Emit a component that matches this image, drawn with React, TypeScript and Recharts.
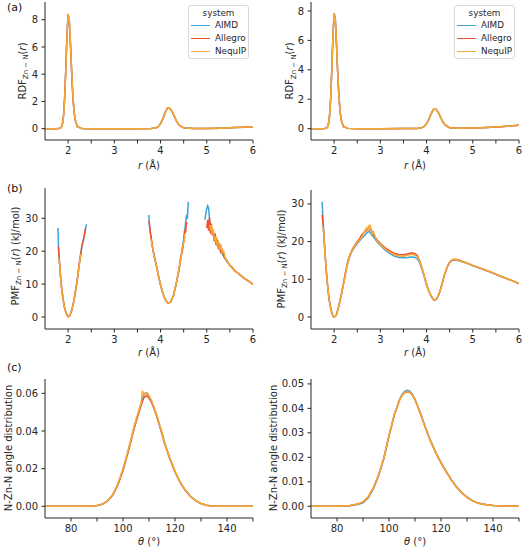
import React from 'react'
import { LineChart, Line, XAxis, YAxis } from 'recharts'

const FONT = '"DejaVu Sans", "Liberation Sans", sans-serif'
const INK = '#262626'
const SERIES = ['AIMD', 'Allegro', 'NequIP'] as const
const COLOURS = ['#3ca3dc', '#f2502c', '#f5aa35']

// ─── (a) RDF Zn–N ─────────────────────────────────────────────────────────────

const rdfR = [1.5, 1.7, 1.8, 1.85, 1.875, 1.9, 1.925, 1.95, 1.975, 2.0, 2.025, 2.05, 2.075, 2.1, 2.125, 2.15, 2.2, 2.3, 2.5, 3.0,
  3.5, 3.8, 3.9, 3.95, 4.0, 4.05, 4.1, 4.15, 4.2, 4.25, 4.3, 4.35, 4.4, 4.5, 4.7, 5.0, 5.3, 5.6, 5.8, 6.0]
const rdfAimdL = [0, 0, 0.01, 0.08, 0.3, 0.9, 2.2, 4.3, 6.8, 8.4, 8.0, 6.3, 4.3, 2.6, 1.4, 0.7, 0.15, 0.02, 0, 0,
  0, 0.01, 0.06, 0.15, 0.36, 0.72, 1.18, 1.5, 1.5, 1.27, 0.9, 0.53, 0.27, 0.06, 0.01, 0.02, 0.04, 0.08, 0.11, 0.15]
const rdfAllegroL = [0, 0, 0.01, 0.09, 0.32, 0.95, 2.3, 4.4, 6.9, 8.3, 7.9, 6.2, 4.25, 2.55, 1.38, 0.68, 0.14, 0.02, 0, 0,
  0, 0.01, 0.06, 0.16, 0.37, 0.74, 1.2, 1.51, 1.49, 1.26, 0.88, 0.51, 0.26, 0.06, 0.01, 0.02, 0.04, 0.08, 0.11, 0.15]
const rdfNequipL = [0, 0, 0.01, 0.08, 0.29, 0.88, 2.15, 4.25, 6.75, 8.45, 8.05, 6.35, 4.3, 2.6, 1.4, 0.7, 0.15, 0.02, 0, 0,
  0, 0.01, 0.06, 0.15, 0.36, 0.72, 1.18, 1.5, 1.51, 1.27, 0.9, 0.52, 0.27, 0.06, 0.01, 0.02, 0.04, 0.08, 0.11, 0.15]

const rdfAimdR = [0, 0, 0.01, 0.07, 0.27, 0.82, 2.0, 3.95, 6.3, 7.85, 7.5, 5.9, 4.0, 2.45, 1.3, 0.65, 0.14, 0.02, 0, 0,
  0.01, 0.02, 0.07, 0.15, 0.33, 0.63, 1.02, 1.3, 1.33, 1.13, 0.8, 0.48, 0.25, 0.07, 0.03, 0.05, 0.08, 0.13, 0.18, 0.24]
const rdfAllegroR = [0, 0, 0.01, 0.08, 0.28, 0.85, 2.05, 4.0, 6.35, 7.8, 7.45, 5.85, 3.95, 2.42, 1.28, 0.64, 0.14, 0.02, 0, 0,
  0.01, 0.02, 0.07, 0.15, 0.34, 0.64, 1.03, 1.31, 1.33, 1.12, 0.79, 0.47, 0.25, 0.07, 0.03, 0.05, 0.08, 0.13, 0.18, 0.24]
const rdfNequipR = [0, 0, 0.01, 0.07, 0.27, 0.83, 2.02, 3.97, 6.32, 7.82, 7.48, 5.88, 3.98, 2.44, 1.29, 0.65, 0.14, 0.02, 0, 0,
  0.01, 0.02, 0.07, 0.15, 0.33, 0.63, 1.02, 1.3, 1.34, 1.13, 0.8, 0.48, 0.25, 0.07, 0.03, 0.05, 0.08, 0.13, 0.18, 0.24]

// ─── (b) PMF Zn–N (left has gaps where the RDF is empty) ──────────────────────

const pmfRL = [1.78, 1.785, 1.79, 1.8, 1.82, 1.84, 1.86, 1.89, 1.92, 1.94, 1.97, 2.0, 2.03, 2.06, 2.09, 2.12, 2.15, 2.18,
  2.21, 2.24, 2.27, 2.3, 2.33, 2.36, 2.38, 2.4,
  3.0,
  3.745, 3.76, 3.78, 3.8, 3.83, 3.86, 3.9, 3.95, 4.0, 4.05, 4.1, 4.16, 4.22, 4.28, 4.34, 4.4, 4.44, 4.47, 4.5, 4.52, 4.54,
  4.56, 4.58, 4.6,
  4.8,
  4.96, 4.98, 5.0, 5.02, 5.04, 5.06, 5.08, 5.1, 5.12, 5.14, 5.16, 5.18, 5.2, 5.22, 5.25, 5.28, 5.31, 5.34, 5.37, 5.4,
  5.45, 5.5, 5.55, 5.6, 5.7, 5.8, 5.9, 6.0]
const pmfAimdL = [27, 25, 22, 19.5, 15.5, 11.8, 8.8, 5.6, 3.0, 2.0, 0.8, 0.05, 0.3, 1.2, 2.7, 4.6, 6.9, 9.6,
  12.6, 15.8, 19.0, 21.6, 23.5, 25.2, 27.2, 28.2,
  null,
  31, 27.5, 25.8, 23.4, 20.8, 18.5, 16.2, 12.8, 9.7, 7.2, 5.3, 4.2, 4.6, 6.6, 10.2, 14.6, 17.9, 20.8, 23.6, 25.2, 28.5,
  30.5, 29.8, 35.0,
  null,
  29.5, 31.5, 33.0, 33.8, 33.0, 29.5, 27.6, 27.0, 26.0, 25.5, 24.6, 24.1, 23.2, 22.6, 21.6, 20.8, 20.0, 19.2, 18.4, 17.6,
  16.6, 15.7, 14.9, 14.2, 13.0, 11.9, 10.9, 10.0]
const pmfAllegroL = [null, null, 21.4, 19.3, 15.4, 11.7, 8.8, 5.6, 3.0, 2.0, 0.8, 0.05, 0.3, 1.2, 2.7, 4.6, 6.9, 9.7,
  12.4, 16.2, 18.5, 21.8, 23.2, 25.8, 26.9, null,
  null,
  29.2, 28.4, 25.5, 24.0, 20.9, 18.8, 16.4, 12.8, 9.7, 7.2, 5.3, 4.2, 4.6, 6.6, 10.2, 14.4, 18.6, 19.8, 23.0, 26.5, 25.6,
  28.6, 28.4, null,
  null,
  null, null, 27.0, 29.5, 26.2, 30.2, 25.4, 28.4, 24.8, 26.3, 23.0, 25.4, 21.8, 23.8, 21.0, 21.9, 19.6, 20.3, 18.2, 17.9,
  16.8, 15.6, 15.1, 14.1, 13.1, 11.8, 11.0, 9.9]
const pmfNequipL = [null, null, null, 17.8, 15.3, 11.8, 8.7, 5.6, 3.0, 2.0, 0.8, 0.05, 0.3, 1.2, 2.7, 4.6, 7.0, 9.5,
  12.8, 15.4, 19.2, null, null, null, null, null,
  null,
  null, null, 23.9, 23.1, 21.0, 18.5, 16.2, 12.8, 9.7, 7.2, 5.3, 4.2, 4.6, 6.6, 10.2, 14.8, 17.6, 21.3, 22.4, 24.6, 24.0,
  null, null, null,
  null,
  null, null, null, null, null, 28.0, 26.8, 27.5, 25.3, 26.6, 24.2, 23.3, 24.5, 22.1, 22.8, 20.4, 21.5, 19.6, 19.8, 17.9,
  16.9, 15.5, 15.2, 14.3, 13.0, 12.0, 10.9, 10.0]

const pmfRR = [1.74, 1.76, 1.78, 1.8, 1.825, 1.85, 1.875, 1.9, 1.925, 1.95, 1.975, 2.0, 2.025, 2.05, 2.1, 2.15, 2.2, 2.25,
  2.3, 2.35, 2.4, 2.45, 2.5, 2.55, 2.6, 2.65, 2.7, 2.72, 2.74, 2.76, 2.78, 2.8, 2.82, 2.85, 2.9, 2.95, 3.0, 3.1, 3.2,
  3.3, 3.4, 3.5, 3.6, 3.65, 3.7, 3.75, 3.8, 3.85, 3.9, 3.95, 4.0, 4.05, 4.1, 4.15, 4.18, 4.22, 4.26, 4.3, 4.35, 4.4,
  4.45, 4.5, 4.55, 4.6, 4.7, 4.8, 4.9, 5.0, 5.2, 5.4, 5.6, 5.8, 6.0]
const pmfAimdR = [30.6, 26.0, 21.5, 17.4, 13.2, 9.4, 6.5, 4.1, 2.4, 1.1, 0.3, 0, 0.15, 0.6, 2.8, 5.5, 8.6, 11.8,
  14.6, 16.4, 17.7, 18.6, 19.4, 20.2, 20.9, 21.5, 22.2, 22.5, 22.6, 22.7, 22.4, 22.0, 21.7, 21.3, 20.4, 19.7, 19.0, 17.8, 16.9,
  16.2, 15.8, 15.7, 15.8, 15.9, 15.9, 15.8, 15.4, 14.4, 12.7, 10.6, 8.5, 6.8, 5.5, 4.6, 4.4, 4.8, 5.8, 7.2, 9.5, 11.6,
  13.3, 14.5, 15.0, 15.1, 14.9, 14.5, 14.1, 13.6, 12.7, 11.8, 10.8, 9.9, 8.9]
const pmfAllegroR = [27.1, 25.0, 21.6, 17.5, 13.3, 9.4, 6.5, 4.1, 2.4, 1.1, 0.3, 0, 0.15, 0.6, 2.8, 5.6, 8.8, 12.1,
  15.0, 16.8, 18.1, 19.1, 20.0, 20.8, 21.8, 22.4, 23.0, 23.3, 23.2, 23.6, 23.0, 23.2, 22.6, 21.8, 21.0, 20.2, 19.5, 18.4, 17.6,
  16.9, 16.6, 16.5, 16.8, 17.0, 17.0, 16.8, 16.3, 15.0, 13.1, 10.9, 8.7, 6.9, 5.5, 4.6, 4.4, 4.8, 5.8, 7.2, 9.5, 11.7,
  13.4, 14.6, 15.1, 15.3, 15.1, 14.7, 14.2, 13.7, 12.8, 11.9, 10.8, 9.9, 8.9]
const pmfNequipR = [null, 24.0, 21.2, 17.3, 13.1, 9.3, 6.4, 4.0, 2.3, 1.0, 0.3, 0, 0.15, 0.6, 2.8, 5.4, 8.5, 11.7,
  14.6, 16.6, 17.9, 18.9, 19.7, 20.4, 21.2, 22.6, 23.6, 22.8, 24.0, 23.4, 24.5, 23.0, 22.0, 22.6, 20.8, 20.0, 19.2, 18.1, 17.2,
  16.6, 16.2, 16.1, 16.4, 16.6, 16.6, 16.4, 16.0, 14.8, 13.0, 10.8, 8.6, 6.8, 5.5, 4.6, 4.4, 4.8, 5.8, 7.2, 9.5, 11.7,
  13.4, 14.6, 15.2, 15.3, 15.0, 14.6, 14.2, 13.7, 12.8, 11.9, 10.8, 9.9, 8.9]

// ─── (c) N–Zn–N angle distribution ────────────────────────────────────────────

const angTL = [70, 80, 85, 88, 90, 92, 94, 96, 98, 100, 101, 102, 103, 104, 105, 106, 107, 107.5, 108, 108.5, 109, 109.5,
  110, 111, 112, 113, 114, 115, 116, 118, 120, 122, 124, 126, 128, 130, 132, 135, 140, 150]
const angAimdL = [0, 0, 0, 0.0002, 0.0004, 0.0011, 0.0028, 0.006, 0.0116, 0.0196, 0.0245, 0.0295, 0.0348, 0.0405, 0.0455,
  0.05, 0.0545, 0.0568, 0.0588, 0.0598, 0.0602, 0.0595, 0.0582, 0.0557, 0.052, 0.048, 0.0434, 0.0387, 0.0337, 0.0255,
  0.0185, 0.0128, 0.0085, 0.0053, 0.003, 0.0015, 0.0006, 0.0001, 0, 0]
const angAllegroL = [0, 0, 0, 0.0002, 0.0004, 0.0011, 0.0027, 0.0058, 0.0112, 0.019, 0.024, 0.029, 0.0342, 0.0398, 0.0448,
  0.0493, 0.0538, 0.0558, 0.0575, 0.0582, 0.0586, 0.0583, 0.0574, 0.0551, 0.0516, 0.0477, 0.0431, 0.0384, 0.0334, 0.0252,
  0.0182, 0.0126, 0.0084, 0.0052, 0.0029, 0.0015, 0.0006, 0.0001, 0, 0]
const angNequipL = [0, 0, 0, 0.0002, 0.0004, 0.0012, 0.0029, 0.0061, 0.0118, 0.0199, 0.0248, 0.0299, 0.0352, 0.041, 0.046,
  0.0505, 0.0552, 0.0614, 0.0592, 0.0603, 0.0594, 0.0601, 0.0588, 0.056, 0.0522, 0.0484, 0.0436, 0.0392, 0.0338, 0.0257,
  0.0187, 0.0129, 0.0086, 0.0053, 0.003, 0.0015, 0.0006, 0.0001, 0, 0]

const angTR = [70, 75, 80, 85, 88, 90, 92, 94, 96, 98, 100, 102, 104, 105, 106, 107, 108, 109, 110, 112, 114, 116, 118,
  120, 122, 124, 126, 128, 130, 132, 134, 136, 140, 145, 150]
const angAimdR = [0, 0, 0.00005, 0.0002, 0.0007, 0.0014, 0.0034, 0.0071, 0.0125, 0.0194, 0.0287, 0.0372, 0.0435, 0.0457,
  0.0469, 0.0474, 0.047, 0.0458, 0.0437, 0.0383, 0.0323, 0.0268, 0.022, 0.0179, 0.0143, 0.0109, 0.008, 0.0056, 0.0038,
  0.0024, 0.0014, 0.0009, 0.0003, 0.0001, 0]
const angAllegroR = [0, 0, 0.00005, 0.0003, 0.0009, 0.0017, 0.0038, 0.0075, 0.0128, 0.0196, 0.0288, 0.0371, 0.0432, 0.0453,
  0.0464, 0.0467, 0.0465, 0.0455, 0.0435, 0.0381, 0.0321, 0.0265, 0.0217, 0.0177, 0.0141, 0.0107, 0.0078, 0.0055, 0.0036,
  0.0023, 0.0014, 0.0008, 0.0003, 0.0001, 0]
const angNequipR = [0, 0, 0.00005, 0.0003, 0.0009, 0.0018, 0.0039, 0.0076, 0.0129, 0.0197, 0.0289, 0.0372, 0.0433, 0.0454,
  0.0465, 0.0468, 0.0466, 0.0455, 0.0434, 0.038, 0.032, 0.0265, 0.0217, 0.0177, 0.0141, 0.0107, 0.0078, 0.0054, 0.0036,
  0.0023, 0.0013, 0.0008, 0.0003, 0.0001, 0]

// ─── Ticks ────────────────────────────────────────────────────────────────────

const rTicks = [2, 2.5, 3, 3.5, 4, 4.5, 5, 5.5, 6]
const thetaTicks = [80, 90, 100, 110, 120, 130, 140, 150]
const rdfYTicks = [0, 2, 4, 6, 8]
const pmfYTicks = [0, 10, 20, 30]
const angYTicksL = [0, 0.02, 0.04, 0.06]
const angYTicksR = [0, 0.01, 0.02, 0.03, 0.04, 0.05]

type Val = number | null
function buildRows(x: number[], a: Val[], b: Val[], c: Val[]) {
  return x.map((v, i) => ({ x: v, AIMD: a[i], Allegro: b[i], NequIP: c[i] }))
}

const fmtR = (v: number) => (Number.isInteger(v) ? String(v) : '')
const fmtTheta = (v: number) => (v % 20 === 0 ? String(v) : '')
const fmtInt = (v: number) => String(v)
const fmt2 = (v: number) => v.toFixed(2)

// ─── Axis titles (drawn through the axis label slot) ─────────────────────────

function VTitle({ cx, cy, kind }: { cx: number; cy: number; kind: 'rdf' | 'pmf' | 'ang' }) {
  return (
    <text transform={`translate(${cx},${cy}) rotate(-90)`} x={0} y={3.6} textAnchor="middle"
      fontFamily={FONT} fontSize={10} fill={INK}>
      {kind === 'ang' ? 'N-Zn-N angle distribution' : (
        <>
          {kind === 'rdf' ? 'RDF' : 'PMF'}
          <tspan fontSize={7} dy={2.5}>Zn − N</tspan>
          <tspan dy={-2.5}>(</tspan><tspan fontStyle="italic">r</tspan>
          <tspan>{kind === 'rdf' ? ')' : ') (kJ/mol)'}</tspan>
        </>
      )}
    </text>
  )
}

function HTitle({ cx, baseY, kind }: { cx: number; baseY: number; kind: 'r' | 'theta' }) {
  return (
    <text transform={`translate(${cx},${baseY})`} x={0} y={0} textAnchor="middle"
      fontFamily={FONT} fontSize={10} fill={INK}>
      <tspan fontStyle="italic">{kind === 'r' ? 'r' : 'θ'}</tspan>
      <tspan>{kind === 'r' ? ' (Å)' : ' (°)'}</tspan>
    </text>
  )
}

// ─── Panel ────────────────────────────────────────────────────────────────────

interface PanelProps {
  left: number; top: number; height: number
  marginTop: number; marginRight: number; yWidth: number; xHeight: number
  data: Record<string, Val>[]
  xDomain: [number, number]; yDomain: [number, number]
  xTicks: number[]; yTicks: number[]
  xFmt: (v: number) => string; yFmt: (v: number) => string
  yTitle: React.ReactElement; xTitle: React.ReactElement
}

function Panel(p: PanelProps) {
  const tick = { fontSize: 10, fill: INK, fontFamily: FONT }
  return (
    <div style={{ position: 'absolute', left: p.left, top: p.top }}>
      <LineChart width={262} height={p.height} data={p.data}
        margin={{ top: p.marginTop, right: p.marginRight, left: 0, bottom: 0 }}>
        <XAxis dataKey="x" type="number" domain={p.xDomain} ticks={p.xTicks} interval={0} allowDataOverflow
          tickFormatter={p.xFmt} height={p.xHeight} tick={tick} tickSize={3.5} tickMargin={3.5}
          axisLine={{ stroke: INK }} tickLine={{ stroke: INK }} label={p.xTitle} />
        <YAxis type="number" domain={p.yDomain} ticks={p.yTicks} interval={0} allowDataOverflow
          tickFormatter={p.yFmt} width={p.yWidth} tick={tick} tickSize={3.5} tickMargin={3.5}
          axisLine={{ stroke: INK }} tickLine={{ stroke: INK }} label={p.yTitle} />
        {SERIES.map((s, i) => (
          <Line key={s} dataKey={s} type="linear" stroke={COLOURS[i]} strokeWidth={1.5}
            dot={false} activeDot={false} connectNulls={false} isAnimationActive={false} />
        ))}
      </LineChart>
    </div>
  )
}

function LegendBox({ left }: { left: number }) {
  return (
    <div style={{
      position: 'absolute', left, top: 5, width: 61, height: 54, boxSizing: 'border-box',
      border: '1px solid #d9d9d9', borderRadius: 3, background: 'rgba(255,255,255,0.85)',
      fontFamily: FONT, fontSize: 8.8, color: INK,
    }}>
      <div style={{ textAlign: 'center', marginTop: 1, lineHeight: '12px' }}>system</div>
      {SERIES.map((s, i) => (
        <div key={s} style={{ display: 'flex', alignItems: 'center', height: 13 }}>
          <span style={{ width: 19, height: 1.5, background: COLOURS[i], marginLeft: 2, marginRight: 5 }} />
          <span style={{ lineHeight: '13px' }}>{s}</span>
        </div>
      ))}
    </div>
  )
}

function Tag({ top, text }: { top: number; text: string }) {
  return (
    <div style={{ position: 'absolute', left: 7, top, fontFamily: FONT, fontSize: 11, color: '#111', lineHeight: '12px' }}>
      {text}
    </div>
  )
}

export default function App() {
  const L = { left: 0, marginRight: 9, yWidth: 45 }
  const R = { left: 262, marginRight: 5, yWidth: 49 }
  return (
    <div style={{ position: 'absolute', left: 0, top: 0, width: 524, height: 550, background: '#fff', overflow: 'hidden' }}>
      {/* (a) RDF */}
      <Panel {...L} top={0} height={175} marginTop={2} xHeight={35}
        data={buildRows(rdfR, rdfAimdL, rdfAllegroL, rdfNequipL)}
        xDomain={[1.5, 6]} yDomain={[-0.83, 9.3]} xTicks={rTicks} yTicks={rdfYTicks} xFmt={fmtR} yFmt={fmtInt}
        yTitle={<VTitle cx={22} cy={71} kind="rdf" />} xTitle={<HTitle cx={149} baseY={169} kind="r" />} />
      <Panel {...R} top={0} height={175} marginTop={2} xHeight={35}
        data={buildRows(rdfR, rdfAimdR, rdfAllegroR, rdfNequipR)}
        xDomain={[1.5, 6]} yDomain={[-0.77, 8.61]} xTicks={rTicks} yTicks={rdfYTicks} xFmt={fmtR} yFmt={fmtInt}
        yTitle={<VTitle cx={27.5} cy={71} kind="rdf" />} xTitle={<HTitle cx={153} baseY={169} kind="r" />} />

      {/* (b) PMF */}
      <Panel {...L} top={175} height={185} marginTop={13} xHeight={31}
        data={buildRows(pmfRL, pmfAimdL, pmfAllegroL, pmfNequipL)}
        xDomain={[1.5, 6]} yDomain={[-3.65, 39.2]} xTicks={rTicks} yTicks={pmfYTicks} xFmt={fmtR} yFmt={fmtInt}
        yTitle={<VTitle cx={15} cy={81} kind="pmf" />} xTitle={<HTitle cx={149} baseY={181} kind="r" />} />
      <Panel {...R} top={175} height={185} marginTop={15} xHeight={31}
        data={buildRows(pmfRR, pmfAimdR, pmfAllegroR, pmfNequipR)}
        xDomain={[1.5, 6]} yDomain={[-3.19, 33.7]} xTicks={rTicks} yTicks={pmfYTicks} xFmt={fmtR} yFmt={fmtInt}
        yTitle={<VTitle cx={19} cy={84} kind="pmf" />} xTitle={<HTitle cx={153} baseY={181} kind="r" />} />

      {/* (c) N-Zn-N angle */}
      <Panel {...L} top={360} height={190} marginTop={19} xHeight={32}
        data={buildRows(angTL, angAimdL, angAllegroL, angNequipL)}
        xDomain={[70, 150]} yDomain={[-0.0062, 0.0676]} xTicks={thetaTicks} yTicks={angYTicksL} xFmt={fmtTheta} yFmt={fmt2}
        yTitle={<VTitle cx={8} cy={88} kind="ang" />} xTitle={<HTitle cx={149} baseY={185} kind="theta" />} />
      <Panel {...R} top={360} height={190} marginTop={19} xHeight={32}
        data={buildRows(angTR, angAimdR, angAllegroR, angNequipR)}
        xDomain={[70, 150]} yDomain={[-0.0048, 0.052]} xTicks={thetaTicks} yTicks={angYTicksR} xFmt={fmtTheta} yFmt={fmt2}
        yTitle={<VTitle cx={11} cy={88} kind="ang" />} xTitle={<HTitle cx={153} baseY={185} kind="theta" />} />

      <LegendBox left={188} />
      <LegendBox left={454} />
      <Tag top={2} text="(a)" />
      <Tag top={183} text="(b)" />
      <Tag top={362} text="(c)" />
    </div>
  )
}
